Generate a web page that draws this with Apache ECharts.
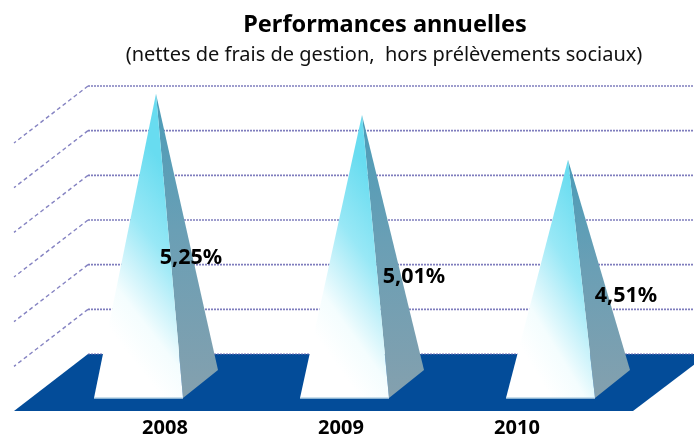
<!DOCTYPE html>
<html>
<head>
<meta charset="utf-8">
<style>
  html, body { margin: 0; padding: 0; background: #fff; }
  #chart { width: 694px; height: 438px; filter: blur(0.5px); }
</style>
<script src="https://cdn.jsdelivr.net/npm/echarts@6/dist/echarts.min.js"></script>
</head>
<body>
<div id="chart"></div>
<script>
// data
var years = ['2008', '2009', '2010'];
var perf = [5.25, 5.01, 4.51];
var gridLevels = [2.5, 3, 3.5, 4, 4.5, 5];
var floorLevel = 2;

var FONT = '"Noto Sans", "Liberation Sans", sans-serif';
// depth of the fake 3d box
var depthX = 74, depthY = 57;
var wallLeft = 88, wallRight = 708;

var chart = echarts.init(document.getElementById('chart'));

function floorItem(params, api) {
  var y = api.coord([0, floorLevel])[1];
  return {
    type: 'group',
    children: [
      {
        type: 'polygon',
        shape: { points: [
          [wallLeft, y], [wallRight, y],
          [wallRight - depthX - 1, y + depthY], [wallLeft - depthX, y + depthY]
        ] },
        style: { fill: '#034c99' }
      },
      {
        type: 'line',
        shape: { x1: wallLeft, y1: y, x2: wallRight, y2: y },
        style: { stroke: '#6f6db5', lineWidth: 1, lineDash: [2, 1] }
      }
    ]
  };
}

function wallItem(params, api) {
  var y = api.coord([0, api.value(1)])[1];
  return {
    type: 'group',
    children: [
      {
        type: 'line',
        shape: { x1: wallLeft, y1: y, x2: wallRight, y2: y },
        style: { stroke: '#7f7dbd', lineWidth: 1.6, lineDash: [2, 1] }
      },
      {
        type: 'line',
        shape: { x1: wallLeft, y1: y, x2: wallLeft - depthX, y2: y + depthY },
        style: { stroke: '#8583c2', lineWidth: 1.4, lineDash: [4, 3] }
      }
    ]
  };
}

function pyramidItem(params, api) {
  var top = api.coord([api.value(0), api.value(1)]);
  var base = api.coord([api.value(0), floorLevel]);
  var mid = depthY / 2 + 1.5;
  var apex = [top[0], top[1] + mid];
  var by = base[1] + mid;
  var fl = [base[0] - 62, by + 14];
  var fr = [base[0] + 27, by + 14];
  var br = [base[0] + 62, by - 14];
  return {
    type: 'group',
    children: [
      {
        type: 'polygon',
        shape: { points: [fr, br, apex] },
        style: {
          fill: new echarts.graphic.LinearGradient(0, 0, 0, 1, [
            { offset: 0, color: '#4a9cb8' },
            { offset: 0.45, color: '#6a9fb5' },
            { offset: 1, color: '#84a0ae' }
          ])
        }
      },
      {
        type: 'polygon',
        shape: { points: [fl, fr, apex] },
        style: {
          fill: new echarts.graphic.LinearGradient(0.1, 0.75, 1.38, 0.46, [
            { offset: 0, color: '#ffffff' },
            { offset: 0.22, color: '#f4fdfe' },
            { offset: 0.42, color: '#c8f2fa' },
            { offset: 0.62, color: '#98e8f6' },
            { offset: 1, color: '#68dcf0' }
          ])
        }
      },
      {
        type: 'line',
        shape: { x1: fl[0], y1: fl[1], x2: fr[0], y2: fr[1] },
        style: { stroke: '#b9d4e6', lineWidth: 1.5 }
      }
    ]
  };
}

// where each value label sits, relative to the pyramid axis
var labelDx = [35, 52, 58];
var labelY = [258, 277, 296];

function labelItem(params, api) {
  var p = api.coord([api.value(0), api.value(1)]);
  var i = params.dataIndex;
  return {
    type: 'text',
    x: p[0] + labelDx[i],
    y: labelY[i],
    style: {
      text: perf[i].toFixed(2).replace('.', ',') + '%',
      font: 'bold 21.5px ' + FONT,
      fill: '#000',
      textAlign: 'center',
      textVerticalAlign: 'middle'
    }
  };
}

var points = years.map(function (y, i) { return [i, perf[i]]; });

chart.setOption({
  animation: false,
  backgroundColor: '#fff',
  title: [
    {
      text: 'Performances annuelles',
      left: 380, top: 8, textAlign: 'center',
      textStyle: { fontFamily: FONT, fontWeight: 'bold', fontSize: 23.5, color: '#000' }
    },
    {
      text: '(nettes de frais de gestion,  hors prélèvements sociaux)',
      left: 379, top: 40, textAlign: 'center',
      textStyle: { fontFamily: FONT, fontWeight: 'normal', fontSize: 20, color: '#111' }
    }
  ],
  grid: [
    { left: 53, width: 618, top: 86, height: 268 },
    { left: 77, width: 528, top: 400, height: 11 }
  ],
  xAxis: [
    { type: 'category', data: years, gridIndex: 0, show: false },
    {
      type: 'category', data: years, gridIndex: 1,
      axisLine: { show: false }, axisTick: { show: false },
      axisLabel: { margin: 7, color: '#000', fontFamily: FONT, fontWeight: 'bold', fontSize: 20 }
    }
  ],
  yAxis: [
    { type: 'value', min: 2, max: 5, interval: 0.5, gridIndex: 0, show: false },
    { type: 'value', gridIndex: 1, show: false }
  ],
  series: [
    { type: 'custom', z: 1, renderItem: floorItem, data: [[0, floorLevel]], silent: true },
    {
      type: 'custom', z: 2, renderItem: wallItem, silent: true,
      data: gridLevels.map(function (v) { return [0, v]; })
    },
    { type: 'custom', z: 3, renderItem: pyramidItem, data: points, silent: true },
    { type: 'custom', z: 4, renderItem: labelItem, data: points, silent: true }
  ]
});
</script>
</body>
</html>
